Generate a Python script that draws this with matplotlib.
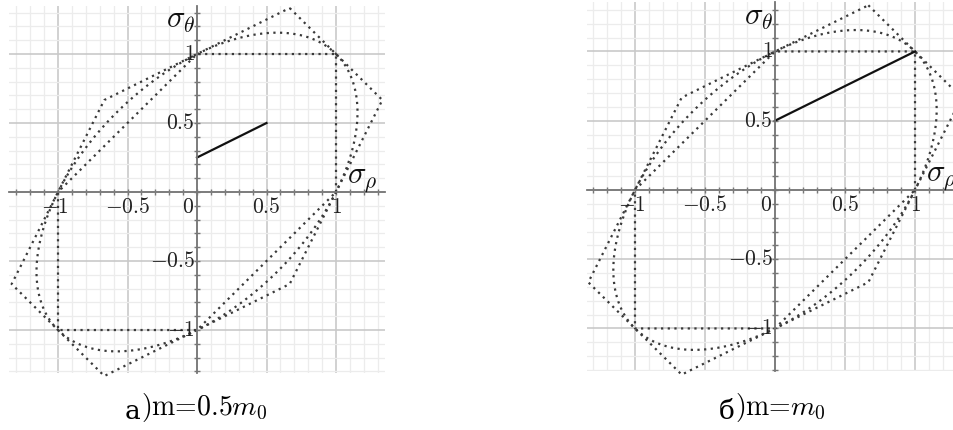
import numpy as np
import matplotlib.pyplot as plt
from matplotlib.ticker import MultipleLocator

plt.rcParams['mathtext.fontset'] = 'cm'
plt.rcParams['font.family'] = ['cmr10', 'DejaVu Serif']
plt.rcParams['axes.formatter.use_mathtext'] = True

# Tresca hexagon
tresca_x = [1, 1, 0, -1, -1, 0, 1]
tresca_y = [0, 1, 1, 0, -1, -1, 0]
# max reduced stress (Ishlinsky) hexagon
ishl_x = [2/3, 4/3, 2/3, -2/3, -4/3, -2/3, 2/3]
ishl_y = [4/3, 2/3, -2/3, -4/3, -2/3, 2/3, 4/3]
# von Mises ellipse: semi-axes along (1,1) and (1,-1)
vm_a = np.sqrt(2.0)
vm_b = np.sqrt(2.0 / 3.0)

# loading paths for the two cases
path_x = [[0, 0.5], [0, 1]]
path_y = [[0.25, 0.5], [0.5, 1]]
cap_letters = ['а', 'б']
captions = [r')m=0.5$m_0$', r')m=$m_0$']

xt_vals = [-1, -0.5, 0, 0.5, 1]
xt_text = [r'$-1$', r'$-0.5$', r'$0$', r'$0.5$', r'$1$']
yt_vals = [1, 0.5, -0.5, -1]
yt_text = [r'$1$', r'$0.5$', r'$-0.5$', r'$-1$']

fig = plt.figure(figsize=(9.54, 4.30), dpi=100)
axes_pos = [[0.0098, 0.133, 0.3934, 0.8537], [0.6157, 0.1363, 0.3948, 0.860]]
lims = [((-1.35, 1.35), (-1.31, 1.35)), ((-1.34, 1.35), (-1.31, 1.36))]
cap_x = [204 / 954, 780 / 954]

t = np.linspace(0, 2 * np.pi, 400)
u = vm_a * np.cos(t)
v = vm_b * np.sin(t)
vm_x = (u + v) / np.sqrt(2)
vm_y = (u - v) / np.sqrt(2)

dot = dict(color='#3a3a3a', lw=1.6, ls=(0, (1, 2.0)), clip_on=False)

for i in range(2):
    ax = fig.add_axes(axes_pos[i])
    ax.set_xlim(*lims[i][0])
    ax.set_ylim(*lims[i][1])
    for s in ['top', 'right']:
        ax.spines[s].set_visible(False)
    for s in ['left', 'bottom']:
        ax.spines[s].set_position(('data', 0))
        ax.spines[s].set_color('#777777')
        ax.spines[s].set_linewidth(1.3)
    ax.xaxis.set_major_locator(MultipleLocator(0.5))
    ax.xaxis.set_minor_locator(MultipleLocator(0.1))
    ax.yaxis.set_major_locator(MultipleLocator(0.5))
    ax.yaxis.set_minor_locator(MultipleLocator(0.1))
    ax.tick_params(which='both', direction='inout', length=4, width=1,
                   color='#777777', labelbottom=False, labelleft=False)
    ax.grid(which='major', color='#c9c9c9', lw=1.2)
    ax.grid(which='minor', color='#ececec', lw=0.9)
    ax.set_axisbelow(True)

    ax.plot(tresca_x, tresca_y, **dot)
    ax.plot(ishl_x, ishl_y, **dot)
    ax.plot(vm_x, vm_y, **dot)
    ax.plot(path_x[i], path_y[i], color='#111111', lw=1.6)

    for xv, xs in zip(xt_vals, xt_text):
        xx = -0.065 if xv == 0 else (xv - 0.02 if xv == -1 else xv)
        ax.text(xx, -0.11, xs, fontsize=15.5, ha='center', va='center',
                color='#222222')
    for yv, ys in zip(yt_vals, yt_text):
        ax.text(-0.015, yv, ys, fontsize=15.5, ha='right', va='center',
                color='#222222')

    ax.text(-0.22, 1.19, r'$\sigma_\theta$', fontsize=22, ha='left',
            va='baseline', color='#111111')
    ax.text(1.08, 0.07, r'$\sigma_\rho$', fontsize=22, ha='left',
            va='baseline', color='#111111')

    cap = fig.text(cap_x[i], 1 - 424 / 430, captions[i], fontsize=20,
                   ha='center', va='bottom')
    fig.canvas.draw()
    ax.annotate(cap_letters[i], xy=(0, 0), xycoords=cap, fontsize=19,
                family='DejaVu Serif', ha='right', va='bottom',
                annotation_clip=False)

fig.savefig('out.png', dpi=100)
